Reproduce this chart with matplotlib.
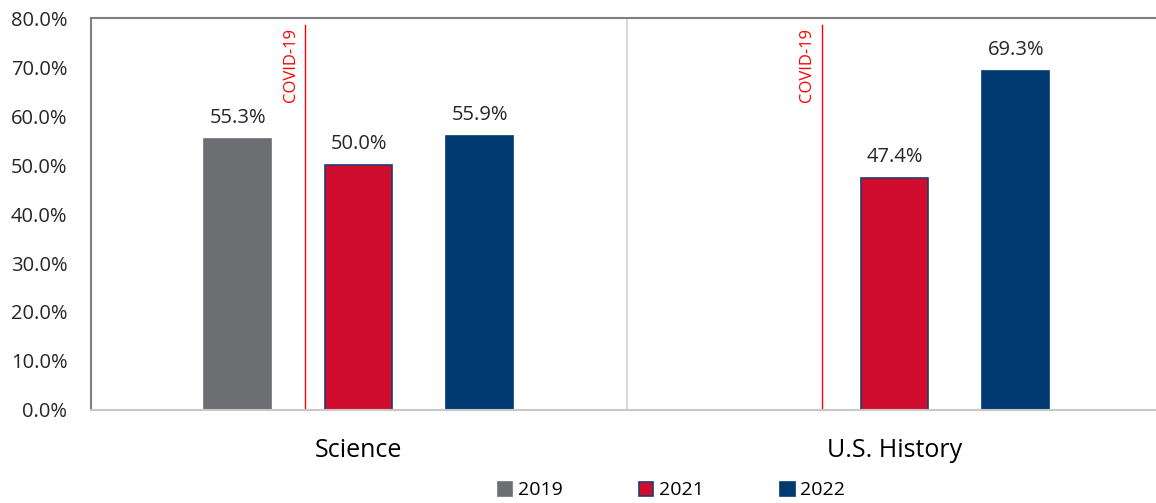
import numpy as np
import matplotlib.pyplot as plt

plt.rcParams['font.family'] = ['Open Sans', 'DejaVu Sans']

categories = ['Science', 'U.S. History']
years = ['2019', '2021', '2022']
values = {
    '2019': [55.3, None],
    '2021': [50.0, 47.4],
    '2022': [55.9, 69.3],
}
colors = {'2019': '#6d6e71', '2021': '#d00c2f', '2022': '#003a70'}
edges = {'2019': '#6d6e71', '2021': '#1f3d6e', '2022': '#003a70'}
covid_x = [-0.10, 0.864]

fig = plt.figure(figsize=(11.56, 5.03), dpi=100)
ax = fig.add_axes([0.0787, 0.185, 0.927, 0.779])

x = np.arange(len(categories))
width = 0.125
offsets = [-0.226, 0.0, 0.226]

for yr, off in zip(years, offsets):
    for i, v in enumerate(values[yr]):
        if v is None:
            continue
        ax.bar(x[i] + off, v, width, color=colors[yr], edgecolor=edges[yr], linewidth=1.2)
        ax.text(x[i] + off, v + 2.2, f'{v:.1f}%', ha='center', va='bottom', fontsize=14.5, color='#262626')

for cx in covid_x:
    ax.plot([cx, cx], [0.3, 78.5], color='#ff0000', lw=1)
    ax.text(cx - 0.012, 78, 'COVID-19', rotation=90, ha='right', va='top', color='#ff0000', fontsize=12)

# category separator
ax.axvline(0.5, color='#d9d9d9', lw=1.5)

ax.set_xlim(-0.5, 1.5)
ax.set_ylim(0, 80)
ax.set_yticks(np.arange(0, 81, 10))
ax.set_yticklabels([f'{t:.1f}%' for t in np.arange(0, 81, 10)], fontsize=14.5, color='#262626')
ax.set_xticks(x)
ax.set_xticklabels(categories, fontsize=18, color='black')
ax.tick_params(axis='x', length=0, pad=20)
ax.tick_params(axis='y', length=0, pad=17)

ax.spines['right'].set_visible(False)
ax.spines['top'].set_color('#808080')
ax.spines['top'].set_linewidth(1.5)
ax.spines['left'].set_color('#808080')
ax.spines['left'].set_linewidth(1.5)
ax.spines['bottom'].set_color('#c8c8c8')
ax.spines['bottom'].set_linewidth(1.5)

handles = [plt.Rectangle((0, 0), 1, 1, facecolor=colors[y], edgecolor=edges[y], lw=1.2) for y in years]
fig.legend(handles, years, loc='center', bbox_to_anchor=(0.581, 0.025), ncol=3, frameon=False,
           fontsize=14, handlelength=0.75, handleheight=0.75, handletextpad=0.3, columnspacing=3.9)

fig.savefig('out.png', dpi=100)
